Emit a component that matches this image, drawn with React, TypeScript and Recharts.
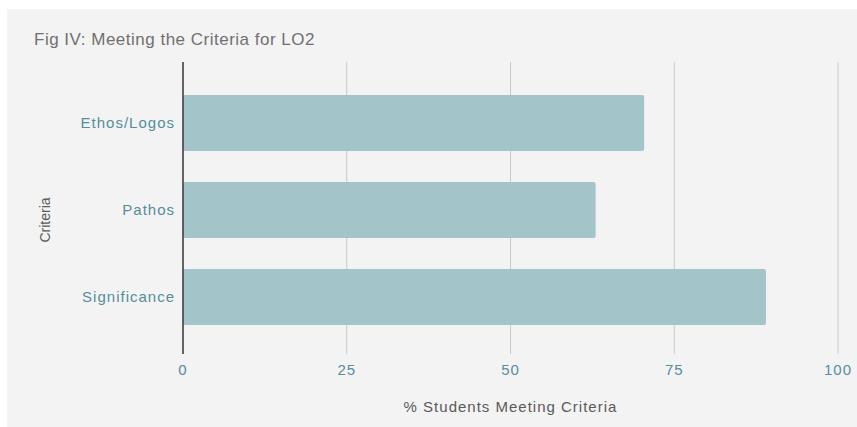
import React from 'react';
import { BarChart, Bar, XAxis, YAxis, CartesianGrid } from 'recharts';

const categories = ['Ethos/Logos', 'Pathos', 'Significance'];
const values = [70.4, 63.0, 89.0];
const xTicks = [0, 25, 50, 75, 100];

const data = categories.map((c, i) => ({ name: c, value: values[i] }));

const FONT = '"Liberation Sans", Arial, Helvetica, sans-serif';
const TEAL = '#548e9c';

const XLabel = (props: any) => {
  const vb = props.viewBox || {};
  return (
    <text
      x={vb.x + vb.width / 2}
      y={vb.y + 58}
      textAnchor="middle"
      fill="#5a5a5a"
      fontSize={15}
      fontFamily={FONT}
      style={{ letterSpacing: '1px' }}
    >
      % Students Meeting Criteria
    </text>
  );
};

const YLabel = (props: any) => {
  const x = 42.5;
  const y = 211;
  return (
    <text
      x={x}
      y={y}
      transform={`rotate(-90, ${x}, ${y})`}
      textAnchor="middle"
      fill="#5a5a5a"
      fontSize={14}
      fontFamily={FONT}
    >
      Criteria
    </text>
  );
};

export default function App() {
  return (
    <div
      style={{
        position: 'absolute',
        left: 7,
        top: 9,
        width: 850,
        height: 418,
        background: '#f3f3f3',
        fontFamily: FONT,
      }}
    >
      <style>{`.recharts-cartesian-axis-tick-value { letter-spacing: 1px; }`}</style>
      <div
        style={{
          position: 'absolute',
          left: 27,
          top: 22,
          fontSize: 17,
          lineHeight: '17px',
          color: '#707070',
          letterSpacing: '0.5px',
          whiteSpace: 'nowrap',
        }}
      >
        Fig IV: Meeting the Criteria for LO2
      </div>
      <BarChart
        width={850}
        height={418}
        data={data}
        layout="vertical"
        margin={{ top: 53, right: 19, bottom: 0, left: 0 }}
      >
        <CartesianGrid horizontal={false} vertical={true} stroke="#c9c9c9" strokeWidth={1} />
        <XAxis
          type="number"
          domain={[0, 100]}
          ticks={xTicks}
          axisLine={false}
          tickLine={false}
          tickSize={0}
          tickMargin={10}
          height={73}
          tick={{ fill: TEAL, fontSize: 15, fontFamily: FONT }}
          label={<XLabel />}
        />
        <YAxis
          type="category"
          dataKey="name"
          width={176}
          axisLine={{ stroke: '#222', strokeWidth: 1.3 }}
          tickLine={false}
          tickSize={0}
          tickMargin={8}
          padding={{ top: 17, bottom: 14 }}
          tick={{ fill: TEAL, fontSize: 15, fontFamily: FONT }}
          label={<YLabel />}
        />
        <Bar dataKey="value" fill="#a3c4c9" barSize={56} radius={2} isAnimationActive={false} />
      </BarChart>
    </div>
  );
}
